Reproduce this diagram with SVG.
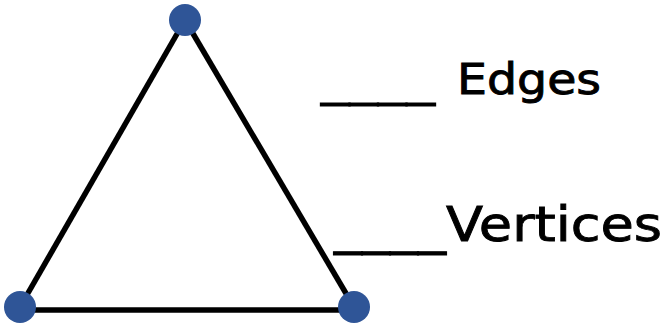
<svg xmlns="http://www.w3.org/2000/svg" width="668" height="323" viewBox="0 0 668 323">
<style>
.edge{stroke:#000;stroke-width:5.5;fill:none;stroke-linecap:butt}
.v{fill:#2F5597}
.t{font-family:"Comic Sans MS","DejaVu Sans","Open Sans",sans-serif;fill:#000;stroke:#000;stroke-width:0.9}
</style>
<rect width="668" height="323" fill="#fff"/>
<g id="connectors">
<line class="edge" x1="185" y1="20" x2="20" y2="307"/>
<line class="edge" x1="185" y1="20" x2="354" y2="307"/>
<line class="edge" x1="20" y1="310" x2="354" y2="310"/>
</g>
<g id="v-top"><circle class="v" cx="185" cy="20" r="16"/></g>
<g id="v-left"><circle class="v" cx="20" cy="307" r="16"/></g>
<g id="v-right"><circle class="v" cx="354" cy="307" r="16"/></g>
<g id="label-edges">
<text class="t" x="321" y="96" font-size="42" textLength="114" lengthAdjust="spacingAndGlyphs">____</text>
<text class="t" x="457" y="94" font-size="42" textLength="144" lengthAdjust="spacingAndGlyphs">Edges</text>
</g>
<g id="label-vertices">
<text class="t" x="334" y="244" font-size="48" textLength="112" lengthAdjust="spacingAndGlyphs">____</text>
<text class="t" x="446" y="241" font-size="48" textLength="216" lengthAdjust="spacingAndGlyphs">Vertices</text>
</g>
</svg>
